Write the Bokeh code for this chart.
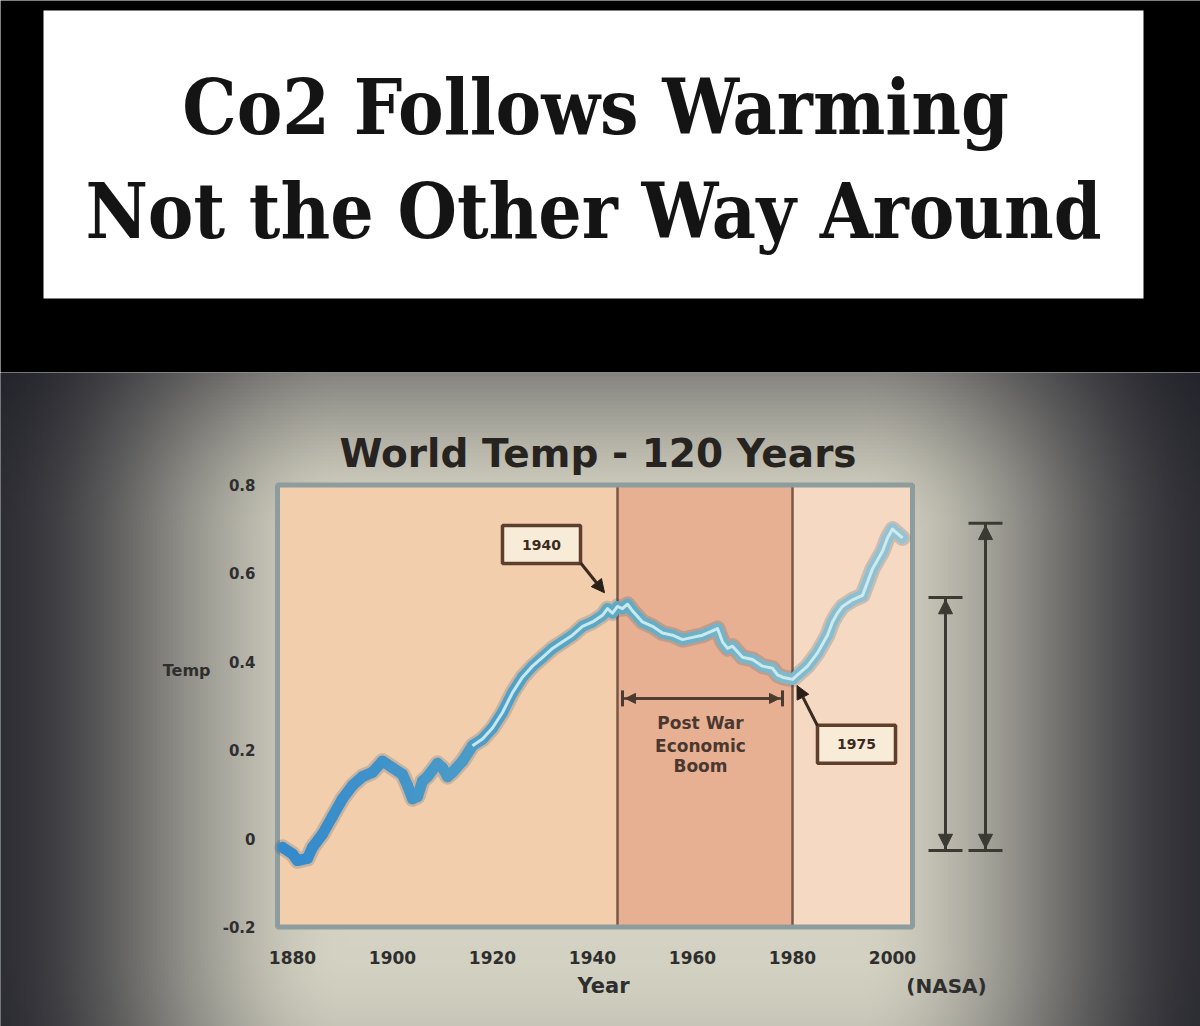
import numpy as np
from bokeh.plotting import figure
from bokeh.models import Range1d, LinearAxis, FixedTicker, Arrow, NormalHead, TeeHead
from bokeh.layouts import column
from bokeh.embed import file_html
from bokeh.resources import INLINE
from bokeh.core.properties import value

# ---------------- data ----------------
headline = ["Co2 Follows Warming", "Not the Other Way Around"]
chart_title = "World Temp - 120 Years"

years = [1878, 1880, 1881, 1883, 1884, 1886, 1888, 1890, 1892, 1894, 1896, 1898,
         1900, 1902, 1903, 1904, 1905, 1906, 1907, 1909, 1910, 1911, 1912, 1914,
         1916, 1918, 1920, 1922, 1924, 1926, 1928, 1930, 1932, 1934, 1936, 1938,
         1940, 1942, 1943, 1944, 1945, 1946, 1947, 1948, 1950, 1952, 1954, 1956,
         1958, 1960, 1962, 1964, 1965, 1966, 1967, 1968, 1970, 1972, 1974, 1976,
         1977, 1978, 1980, 1981, 1983, 1985, 1987, 1988, 1989, 1990, 1992, 1994,
         1995, 1996, 1998, 1999, 2000, 2001, 2002]
temps = [-0.02, -0.035, -0.05, -0.045, -0.02, 0.01, 0.05, 0.09, 0.12, 0.14, 0.15, 0.175,
         0.16, 0.145, 0.12, 0.09, 0.095, 0.13, 0.14, 0.17, 0.16, 0.14, 0.15, 0.175,
         0.21, 0.225, 0.25, 0.285, 0.33, 0.365, 0.39, 0.41, 0.43, 0.445, 0.46, 0.48,
         0.49, 0.505, 0.52, 0.51, 0.525, 0.52, 0.53, 0.515, 0.49, 0.48, 0.465, 0.46,
         0.45, 0.455, 0.46, 0.47, 0.475, 0.445, 0.43, 0.435, 0.41, 0.405, 0.39, 0.385,
         0.37, 0.365, 0.36, 0.37, 0.39, 0.42, 0.46, 0.49, 0.51, 0.525, 0.54, 0.55,
         0.58, 0.61, 0.65, 0.68, 0.70, 0.69, 0.68]

x_ticks = [1880, 1900, 1920, 1940, 1960, 1980, 2000]
y_ticks = [-0.2, 0.0, 0.2, 0.4, 0.6, 0.8]
y_tick_labels = ["-0.2", "0", "0.2", "0.4", "0.6", "0.8"]

year_min, year_max = 1877, 2004
temp_min, temp_max = -0.2, 0.8
period_starts = [1877, 1945, 1980]
period_ends = [1945, 1980, 2004]
period_colors = ["#f2ceac", "#e8b092", "#f5d9c2"]

callout_labels = ["1940", "1975"]
callout_left = [1922.0, 1985.0]
callout_right = [1937.6, 2000.6]
callout_bottom = [0.622, 0.170]
callout_top = [0.708, 0.256]
callout_from_x = [1937.6, 1985.0]
callout_from_y = [0.624, 0.255]
callout_to_x = [1942.4, 1980.9]
callout_to_y = [0.556, 0.346]

boom_start, boom_end, boom_level = 1946.0, 1978.0, 0.317
boom_lines = ["Post War", "Economic", "Boom"]
boom_text_y = [0.262, 0.210, 0.163]
boom_text_x = 1961.6

range_x = [2010.6, 2018.6]
range_low = [-0.027, -0.027]
range_high = [0.545, 0.713]

# ---------------- headline panel ----------------
top = figure(width=1200, height=372, x_range=Range1d(0, 1200), y_range=Range1d(372, 0),
             x_axis_type=None, y_axis_type=None, toolbar_location=None,
             output_backend="svg", min_border=0, outline_line_color=None,
             background_fill_color="black", border_fill_color="black")
top.quad(left=[43], right=[1143], top=[10], bottom=[298], fill_color="white", line_color=None)
top.text(x=[595, 593], y=[107, 211], text=headline,
         text_font=value("DejaVu Serif Condensed"), text_font_style="bold",
         text_font_size="76px", text_align="center", text_baseline="middle",
         text_color="#141414")

# ---------------- chart panel ----------------
XL, XR = 1821.6, 2061.6
YB, YT = -0.4253, 1.0543
p = figure(width=1200, height=654, x_range=Range1d(XL, XR), y_range=Range1d(YB, YT),
           x_axis_type=None, y_axis_type=None, toolbar_location=None,
           output_backend="svg", min_border=0, outline_line_color=None,
           background_fill_color="#222226", border_fill_color="#222226")

# vignette background (photo of a screen)
W, H = 300, 164
px = (np.arange(W) + 0.5) * 1200 / W
py = 1026 - (np.arange(H) + 0.5) * 654 / H
X, Y = np.meshgrid(px, py)


def smooth(t):
    t = np.clip(t, 0, 1)
    return t * t * (3 - 2 * t)


dx = np.abs(X - 600) / 610
dy = np.where(Y < 700, (700 - Y) / 480, (Y - 700) / 700)
sx = smooth((dx - 0.42) / 0.6)
sy = smooth((dy - 0.35) / 0.6)
b = (1 - 0.88 * sx) * (1 - 0.72 * sy)
s = 1 - b
img = np.empty((H, W), dtype=np.uint32)
view = img.view(dtype=np.uint8).reshape((H, W, 4))
view[..., 0] = np.clip(212 * b + 22 * s, 0, 255).astype(np.uint8)
view[..., 1] = np.clip(210 * b + 22 * s, 0, 255).astype(np.uint8)
view[..., 2] = np.clip(194 * b + 32 * s, 0, 255).astype(np.uint8)
view[..., 3] = 255
p.image_rgba(image=[img], x=XL, y=YB, dw=XR - XL, dh=YT - YB)

# plot area with period shading
p.quad(left=period_starts, right=period_ends, bottom=temp_min, top=temp_max,
       fill_color=period_colors, line_color=None)
p.segment(x0=period_ends[:2], y0=temp_min, x1=period_ends[:2], y1=temp_max,
          line_color="#7a5846", line_width=2.5)
p.quad(left=[year_min], right=[year_max], bottom=[temp_min], top=[temp_max],
       fill_color=None, line_color="#8d9c9c", line_width=5)

# temperature line (shadow, body, highlight)
p.line(years, temps, line_color="#2f5670", line_width=16, line_alpha=0.22,
       line_join="round", line_cap="round")
seg_x, seg_y, seg_c = [], [], []
c0 = np.array([52, 138, 204]); c1 = np.array([96, 172, 196]); c2 = np.array([150, 196, 212])
for i in range(len(years) - 1):
    seg_x.append([years[i], years[i + 1]])
    seg_y.append([temps[i], temps[i + 1]])
    f = (years[i] - 1878) / (2002 - 1878)
    c = c0 + (c1 - c0) * min(f / 0.55, 1) if f < 0.55 else c1 + (c2 - c1) * (f - 0.55) / 0.45
    seg_c.append("#%02x%02x%02x" % tuple(int(v) for v in c))
p.multi_line(seg_x, seg_y, line_color=seg_c, line_width=11, line_join="round", line_cap="round")
hi_x = [y for y in years if y >= 1916]
hi_y = [t_ for y, t_ in zip(years, temps) if y >= 1916]
p.line(hi_x, hi_y, line_color="#d4f0f2", line_width=3, line_alpha=0.9, line_join="round")

# callouts
for i in range(2):
    p.add_layout(Arrow(end=NormalHead(size=13, fill_color="#2a2018", line_color="#2a2018"),
                       x_start=callout_from_x[i], y_start=callout_from_y[i],
                       x_end=callout_to_x[i], y_end=callout_to_y[i],
                       line_color="#3a2a20", line_width=3))
p.quad(left=callout_left, right=callout_right, bottom=callout_bottom, top=callout_top,
       fill_color="#f8ecd9", line_color="#5e3f2c", line_width=3.5)
p.text(x=[(a + b_) / 2 for a, b_ in zip(callout_left, callout_right)],
       y=[(a + b_) / 2 for a, b_ in zip(callout_bottom, callout_top)], text=callout_labels,
       text_font=value("DejaVu Sans"), text_font_style="bold", text_font_size="14px",
       text_align="center", text_baseline="middle", text_color="#3a2a22")

# post war boom span
p.add_layout(Arrow(start=TeeHead(size=16, line_color="#4a3a30", line_width=3),
                   end=TeeHead(size=16, line_color="#4a3a30", line_width=3),
                   x_start=boom_start, y_start=boom_level, x_end=boom_end, y_end=boom_level,
                   line_color="#4a3a30", line_width=2.5))
p.add_layout(Arrow(start=NormalHead(size=10, fill_color="#4a3a30", line_color="#4a3a30"),
                   end=NormalHead(size=10, fill_color="#4a3a30", line_color="#4a3a30"),
                   x_start=boom_start + 0.6, y_start=boom_level, x_end=boom_end - 0.6,
                   y_end=boom_level, line_color="#4a3a30", line_width=2.5))
p.text(x=[boom_text_x] * 3, y=boom_text_y, text=boom_lines, text_font=value("DejaVu Sans"),
       text_font_style="bold", text_font_size="17px", text_align="center",
       text_baseline="middle", text_color="#4a3830")

# right-hand range arrows
for i in range(2):
    p.add_layout(Arrow(start=TeeHead(size=34, line_color="#3b3a32", line_width=3),
                       end=TeeHead(size=34, line_color="#3b3a32", line_width=3),
                       x_start=range_x[i], y_start=range_low[i], x_end=range_x[i],
                       y_end=range_high[i], line_color="#3b3a32", line_width=3))
    p.add_layout(Arrow(start=NormalHead(size=14, fill_color="#3b3a32", line_color="#3b3a32"),
                       end=NormalHead(size=14, fill_color="#3b3a32", line_color="#3b3a32"),
                       x_start=range_x[i], y_start=range_low[i] + 0.005, x_end=range_x[i],
                       y_end=range_high[i] - 0.005, line_color="#3b3a32", line_width=3))

# axes
xaxis = LinearAxis(fixed_location=temp_min, ticker=FixedTicker(ticks=x_ticks),
                   axis_line_color=None, major_tick_line_color=None,
                   minor_tick_line_color=None, major_label_standoff=18,
                   major_label_text_font="DejaVu Sans", major_label_text_font_style="bold",
                   major_label_text_font_size="17px", major_label_text_color="#2e2e2e")
p.add_layout(xaxis, "below")
yaxis = LinearAxis(fixed_location=year_min, ticker=FixedTicker(ticks=y_ticks),
                   major_label_overrides={v: s_ for v, s_ in zip(y_ticks, y_tick_labels)},
                   axis_line_color=None, major_tick_line_color=None,
                   minor_tick_line_color=None, major_label_standoff=16,
                   major_label_text_font="DejaVu Sans", major_label_text_font_style="bold",
                   major_label_text_font_size="15px", major_label_text_color="#2e2e2e")
p.add_layout(yaxis, "left")

# titles and labels
p.text(x=[1941.1], y=[0.872], text=[chart_title], text_font=value("DejaVu Sans"),
       text_font_style="bold", text_font_size="39px", text_align="center",
       text_baseline="middle", text_color="#262320")
p.text(x=[1863.6], y=[0.38], text=["Temp"], text_font=value("DejaVu Sans"),
       text_font_style="bold", text_font_size="16px", text_align="right",
       text_baseline="middle", text_color="#2e2e2e")
p.text(x=[1942.2], y=[-0.333], text=["Year"], text_font=value("DejaVu Sans"),
       text_font_style="bold", text_font_size="21px", text_align="center",
       text_baseline="middle", text_color="#2e2e2e")
p.text(x=[2010.8], y=[-0.333], text=["(NASA)"], text_font=value("DejaVu Sans"),
       text_font_style="bold", text_font_size="20px", text_align="center",
       text_baseline="middle", text_color="#2e2e2e")

layout = column(top, p, spacing=0)
open("out.html", "w").write(file_html(layout, INLINE))
